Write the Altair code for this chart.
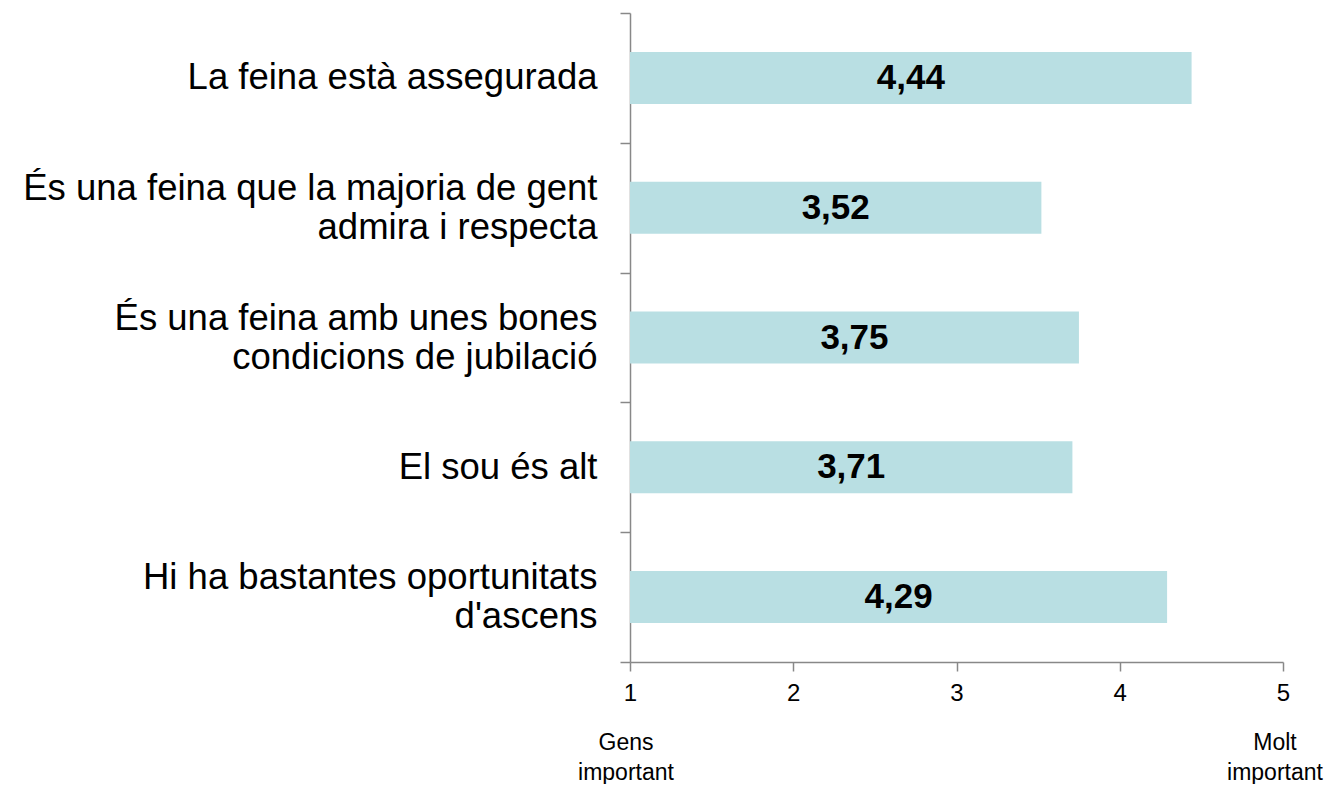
import altair as alt
import pandas as pd

categories = [
    "La feina està assegurada",
    "És una feina que la majoria de gent|admira i respecta",
    "És una feina amb unes bones|condicions de jubilació",
    "El sou és alt",
    "Hi ha bastantes oportunitats|d'ascens",
]
values = [4.44, 3.52, 3.75, 3.71, 4.29]
value_labels = ["4,44", "3,52", "3,75", "3,71", "4,29"]
x_ticks = [1, 2, 3, 4, 5]
left_end = pd.DataFrame({"x": [1], "t": [["Gens", "important"]]})
right_end = pd.DataFrame({"x": [5], "t": [["Molt", "important"]]})

df = pd.DataFrame({"cat": categories, "value": values, "label": value_labels})

W, H = 653, 649
GRAY = "#888888"
FONT = "Liberation Sans"

y_enc = alt.Y(
    "cat:N",
    sort=categories,
    title=None,
    scale=alt.Scale(paddingInner=0, paddingOuter=0),
    axis=alt.Axis(
        labelExpr="split(datum.label, '|')",
        labelFontSize=36.5,
        labelLineHeight=39,
        labelOffset={"condition": {"test": "indexof(datum.label, '|') >= 0", "value": -19.5}, "value": 0},
        labelColor="#000000",
        labelFont=FONT,
        labelPadding=23,
        labelLimit=700,
        tickBand="extent",
        tickSize=10,
        tickColor=GRAY,
        tickWidth=1.5,
        domainColor=GRAY,
        domainWidth=1.5,
    ),
)

x_scale = alt.Scale(domain=[1, 5], nice=False, zero=False)

bars = alt.Chart(df).mark_bar(size=52, color="#b9dfe3").encode(
    x=alt.X(
        "value:Q",
        scale=x_scale,
        title=None,
        axis=alt.Axis(
            values=x_ticks,
            format="d",
            grid=False,
            tickSize=9,
            tickColor=GRAY,
            tickWidth=1.5,
            domainColor=GRAY,
            domainWidth=1.5,
            labelFontSize=24,
            labelFont=FONT,
            labelColor="#000000",
            labelPadding=10,
            labelFlush=False,
        ),
    ),
    x2=alt.datum(1),
    y=y_enc,
)

texts = alt.Chart(df).transform_calculate(mid="(datum.value + 1) / 2").mark_text(
    fontSize=35, fontWeight="bold", font=FONT, color="#000000", baseline="middle", align="center"
).encode(
    x=alt.X("mid:Q", scale=x_scale),
    y=alt.Y("cat:N", sort=categories),
    text="label:N",
)

end_style = dict(fontSize=23, font=FONT, color="#000000", baseline="middle", align="center", lineHeight=30)

left_text = alt.Chart(left_end).mark_text(dx=-4, **end_style).encode(
    x=alt.X("x:Q", scale=x_scale),
    y=alt.value(H + 81),
    text="t",
)
right_text = alt.Chart(right_end).mark_text(dx=-8, **end_style).encode(
    x=alt.X("x:Q", scale=x_scale),
    y=alt.value(H + 81),
    text="t",
)

chart = alt.layer(bars, texts, left_text, right_text).properties(
    width=W,
    height=H,
    autosize=alt.AutoSizeParams(type="none"),
    padding={"left": 622, "top": 5, "right": 43, "bottom": 122},
).configure(font=FONT).configure_view(stroke="transparent", strokeWidth=0)

chart.save("out.html", embed_options={"renderer": "svg", "actions": False})
